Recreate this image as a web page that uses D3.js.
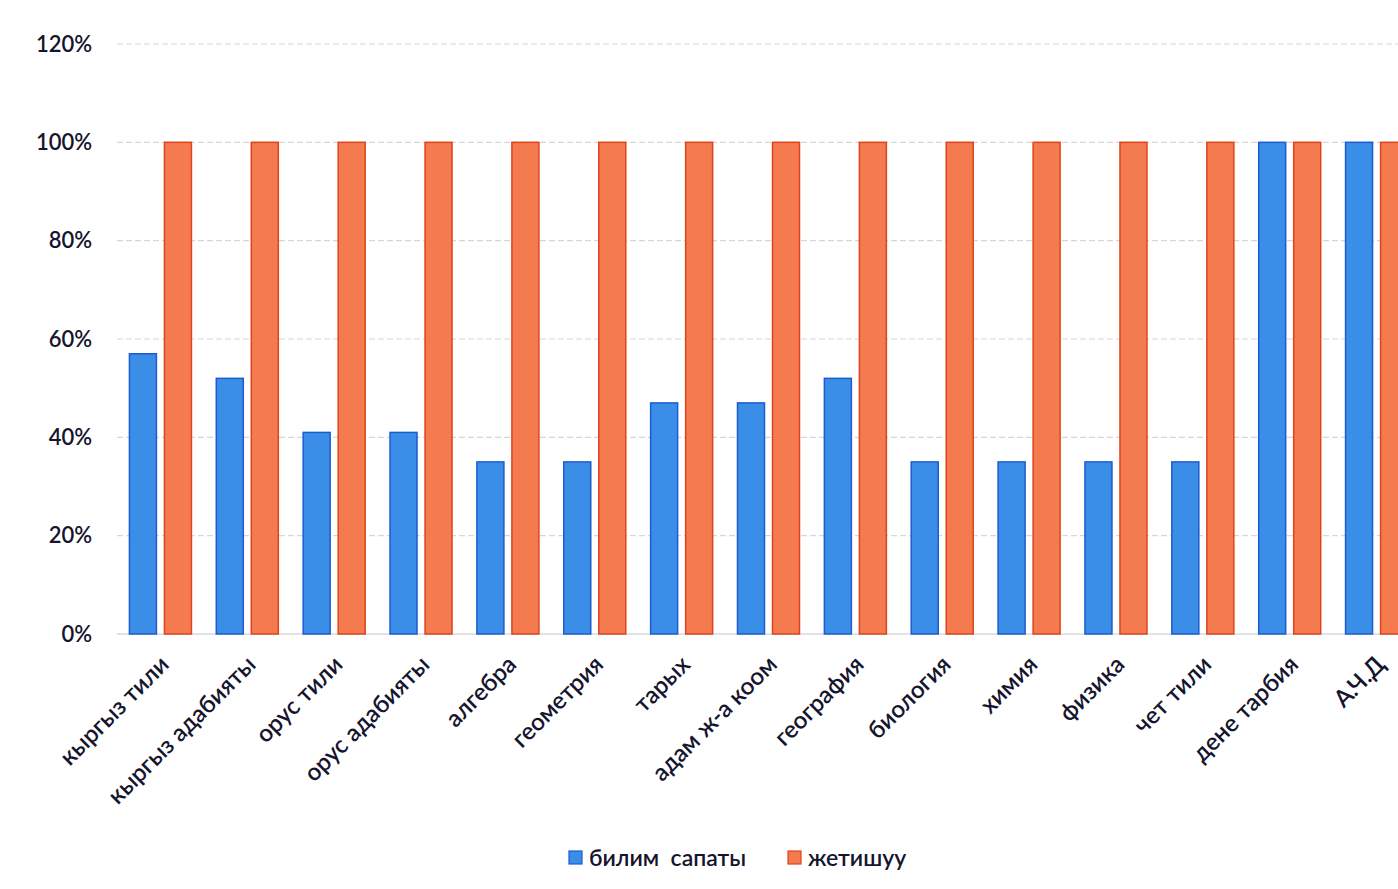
<!DOCTYPE html>
<html><head><meta charset="utf-8">
<script src="https://cdn.jsdelivr.net/npm/d3@7"></script>
<style>
html,body{margin:0;padding:0;background:#fff;}
svg{display:block;}
text{font-family:Lato,"Open Sans",sans-serif;}
</style></head>
<body>
<script>
const categories = ["кыргыз тили","кыргыз адабияты","орус тили","орус адабияты","алгебра","геометрия","тарых","адам ж-а коом","география","биология","химия","физика","чет тили","дене тарбия","А.Ч.Д"];
const seriesNames = ["билим  сапаты","жетишуу"];
const bilimSapaty = [57,52,41,41,35,35,47,47,52,35,35,35,35,100,100];
const zhetishuu = [100,100,100,100,100,100,100,100,100,100,100,100,100,100,100];
const yTicks = [0,20,40,60,80,100,120];
const fills = ["#3a8ee8","#f47b4f"];
const strokes = ["#1c5ccf","#e0431c"];

const W=1398,H=889;
const svg=d3.select("body").append("svg").attr("width",W).attr("height",H);
const m={left:117,right:1420,top:44,bottom:634};
const x=d3.scaleBand().domain(categories).range([m.left,m.right]).paddingInner(0).paddingOuter(0);
const y=d3.scaleLinear().domain([0,120]).range([m.bottom,m.top]);
const inner=d3.scaleBand().domain([0,1]).range([0,x.bandwidth()]).paddingInner(0.229).paddingOuter(0.355);

// gridlines
svg.append("g").selectAll("line").data(yTicks).join("line")
  .attr("x1",m.left).attr("x2",W).attr("y1",d=>y(d)).attr("y2",d=>y(d))
  .attr("stroke",d=>d===0?"#c8c8cc":"#d6d6d9").attr("stroke-width",1.2)
  .attr("stroke-dasharray",d=>d===0?null:"6,3");

// y axis labels
const yAxis=d3.axisLeft(y).tickValues(yTicks).tickFormat(d=>d+"%").tickSize(0).tickPadding(0);
const gy=svg.append("g").attr("transform","translate(92,0)").call(yAxis);
gy.select(".domain").remove();
gy.selectAll("text").attr("font-size",22).attr("fill","#15152e").attr("font-weight",600).attr("font-family","Lato,sans-serif");

// bars
const data=categories.map((c,i)=>({c,v:[bilimSapaty[i],zhetishuu[i]]}));
const groups=svg.append("g").selectAll("g").data(data).join("g")
  .attr("transform",d=>`translate(${x(d.c)},0)`);
groups.selectAll("rect").data(d=>d.v.map((v,k)=>({v,k}))).join("rect")
  .attr("x",d=>inner(d.k)).attr("width",inner.bandwidth())
  .attr("y",d=>y(d.v)).attr("height",d=>y(0)-y(d.v))
  .attr("fill",d=>fills[d.k]).attr("stroke",d=>strokes[d.k]).attr("stroke-width",1.5);

// x axis labels
const xAxis=d3.axisBottom(x).tickSize(0).tickPadding(0);
const gx=svg.append("g").attr("transform",`translate(0,${m.bottom})`).call(xAxis);
gx.select(".domain").remove();
gx.selectAll("text")
  .attr("font-size",24).attr("fill","#15152e").attr("font-weight",600).attr("font-family","Lato,sans-serif")
  .attr("text-anchor","end").attr("dy",0)
  .attr("transform","translate(10,32) rotate(-45)");

// legend
const leg=svg.append("g").attr("transform","translate(569,858)");
const items=[{x:0,k:0},{x:219,k:1}];
items.forEach(it=>{
  leg.append("rect").attr("x",it.x).attr("y",-7).attr("width",13).attr("height",13)
    .attr("fill",fills[it.k]).attr("stroke",strokes[it.k]).attr("stroke-width",1.2);
  leg.append("text").attr("x",it.x+20).attr("y",0).attr("dy","0.35em")
    .attr("font-size",23).attr("font-weight",600).attr("fill","#15152e")
    .attr("xml:space","preserve").style("white-space","pre")
    .text(seriesNames[it.k]);
});
</script>
</body></html>
